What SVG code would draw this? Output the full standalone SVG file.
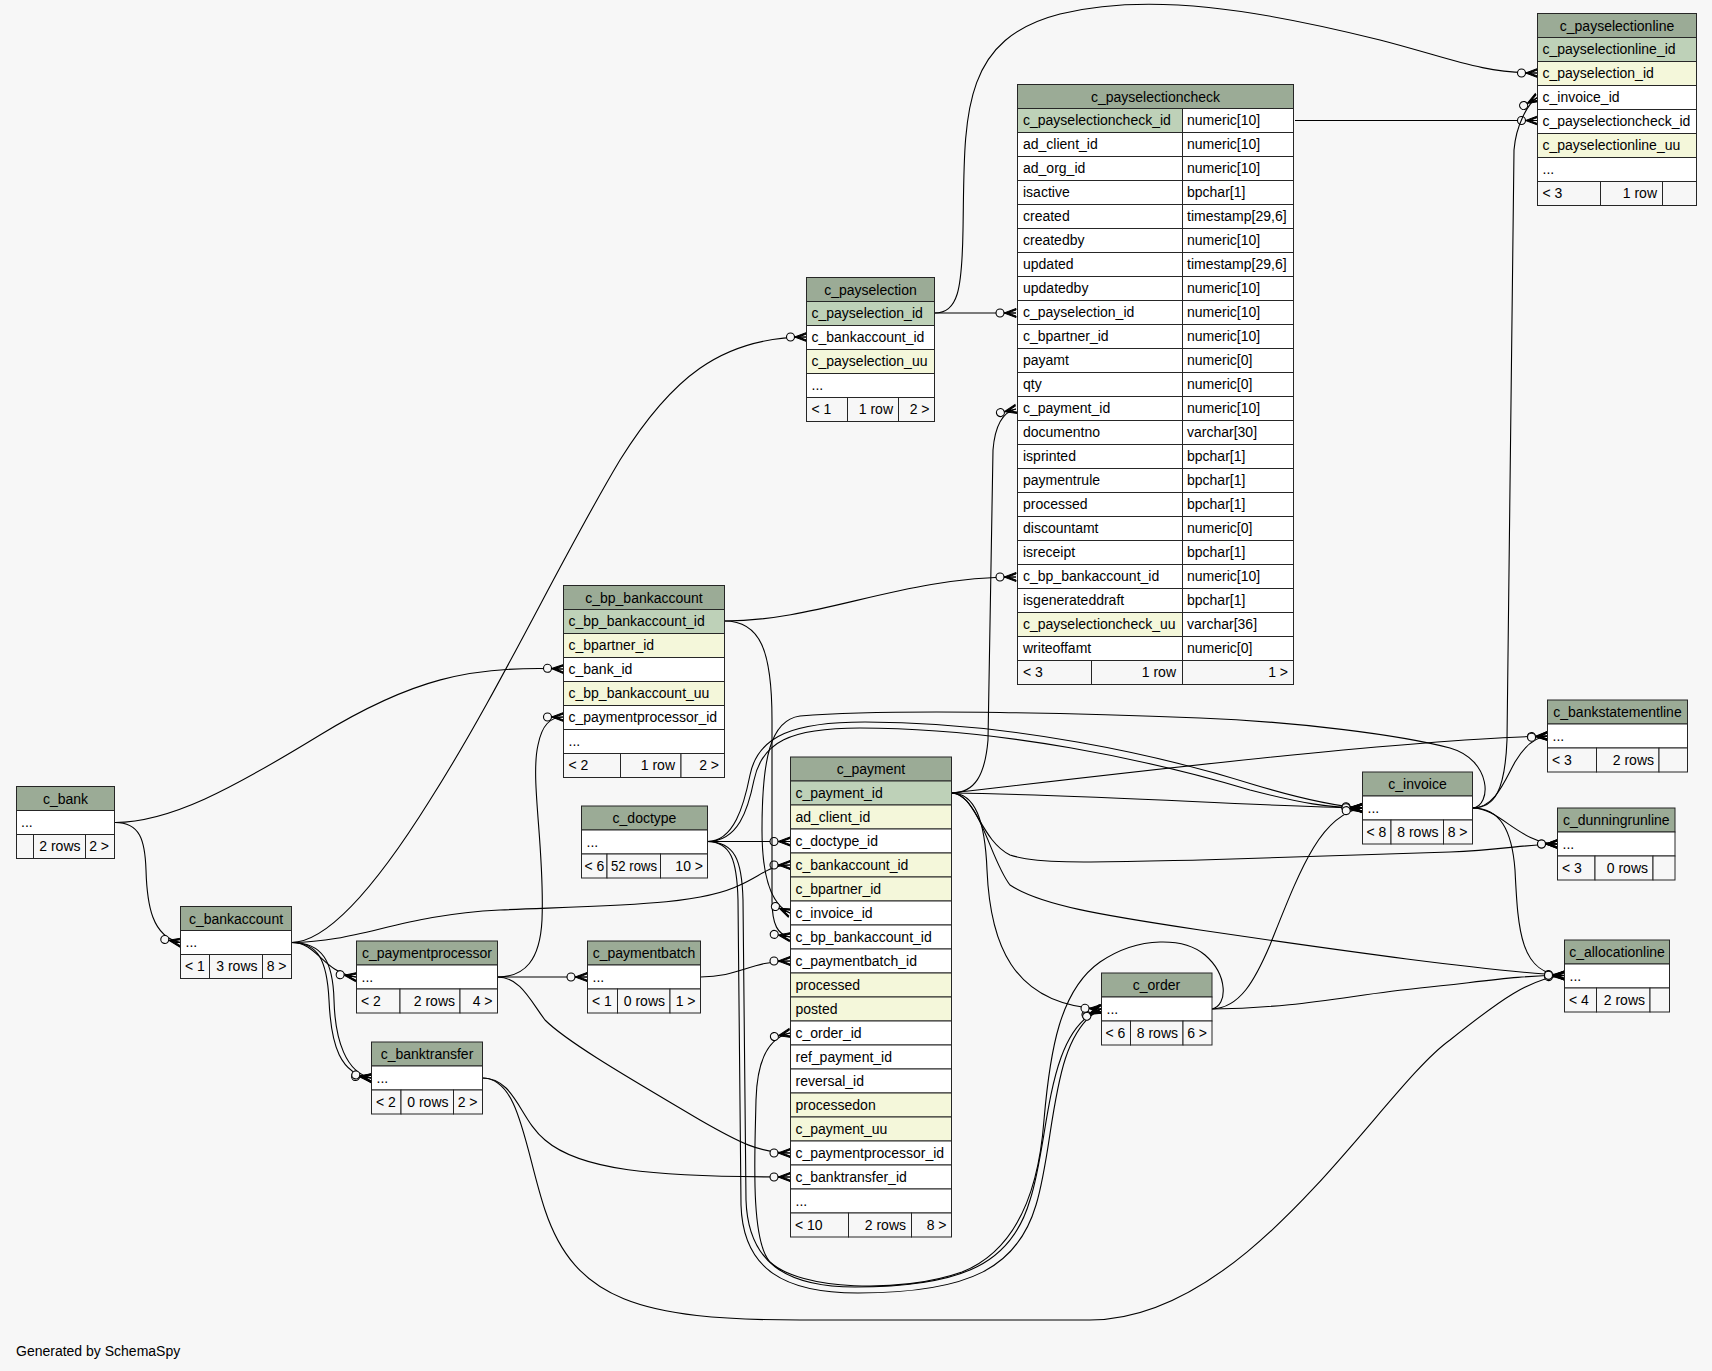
<svg xmlns="http://www.w3.org/2000/svg" width="1712" height="1371" viewBox="0 0 1712 1371">
<defs>
<style>
text{font-family:"Liberation Sans",Arial,sans-serif;font-size:14px;fill:#000}
.c{text-anchor:middle}.e{text-anchor:end}
rect{stroke:#262626;stroke-width:1}
rect.bg{stroke:none;fill:#f7f7f7}
.h{fill:#9bab96}.pk{fill:#bed1b8}.ix{fill:#f4f7da}.w{fill:#fff}.f{fill:#f7f7f7}
.edges path{fill:none;stroke:#000;stroke-width:1.1;marker-end:url(#crow)}
</style>
<marker id="crow" markerUnits="userSpaceOnUse" markerWidth="26" markerHeight="14" viewBox="-22 -7 24 14" refX="0" refY="0" orient="auto" overflow="visible">
<path d="M-12,0 L0,-4.5 L0,-3 L-8,0 L0,3 L0,4.5 Z M-12,0 L0,0" fill="#000" stroke="#000" stroke-width="1"/>
<circle cx="-16" cy="0" r="4" fill="#f7f7f7" stroke="#000" stroke-width="1.1"/>
</marker>
</defs>
<rect class="bg" x="0" y="0" width="1712" height="1371"/>

<g class="edges" id="connectors">
<path d="M115,822.5 C140,822.5 145,840 146,870 C147,905 152,937 180.5,942.5"/>
<path d="M115,822.5 C170,822 230,790 320,735 C410,680 470,665 563.5,669"/>
<path d="M291.5,942.5 C330,942 380,880 430,800 C500,690 560,560 620,460 C670,380 720,337 806.5,337"/>
<path d="M291.5,942.5 C318,942.5 322,972 356,977"/>
<path d="M291.5,942.5 C318,942.5 327,960 329,1000 C331,1045 340,1075 371.5,1078"/>
<path d="M291.5,942.5 C323,942.5 333,962 334,1000 C335,1040 346,1073 371.5,1078"/>
<path d="M291.5,942.5 C360,942 400,915 500,910 C620,905 700,905 740,885 C762,875 770,865 790,865"/>
<path d="M497.5,977 C525,977 540,960 542,920 C545,850 530,780 538,745 C542,725 550,717 563.5,717"/>
<path d="M497.5,977 L587,977"/>
<path d="M497.5,977 C520,977 530,1000 545,1020 C570,1045 650,1090 700,1120 C740,1143 760,1153 790,1153"/>
<path d="M700.5,977 C740,977 750,961 790,961"/>
<path d="M482.5,1078 C515,1078 520,1120 545,1140 C580,1170 650,1177 790,1177"/>
<path d="M482.5,1078 C520,1078 525,1150 545,1210 C575,1300 640,1320 800,1320 L1090,1320 C1250,1320 1380,1090 1450,1040 C1500,1000 1530,978 1564.5,975.5"/>
<path d="M707.5,841.5 L790,841.5"/>
<path d="M707.5,841.5 C738,841.5 748,810 754,780 C762,742 790,728 860,728 C1000,728 1150,760 1250,790 C1300,803 1330,808 1362,808"/>
<path d="M707.5,841.5 C734,841.5 744,805 750,775 C758,735 795,722 865,722 C1010,722 1160,755 1255,785 C1305,800 1335,806 1362,808"/>
<path d="M707.5,841.5 C735,842 742,860 743,900 L746,1200 C748,1262 785,1287 855,1287 C965,1287 1012,1262 1030,1200 C1050,1140 1045,1030 1101,1009"/>
<path d="M707.5,841.5 C731,842 737,860 738,900 L741,1205 C743,1270 785,1293 858,1293 C972,1293 1018,1266 1036,1205 C1056,1140 1050,1035 1101,1009"/>
<path d="M724.5,621 C820,621 900,577 1016,577"/>
<path d="M724.5,621 C760,621 772,650 772,720 L772,900 C772,925 778,935 790,937"/>
<path d="M934.5,313 C958,313 962,290 963,230 C965,120 958,40 1060,14 C1150,-8 1260,10 1380,40 C1450,58 1480,73 1537.5,73"/>
<path d="M934.5,313 L1016,313"/>
<path d="M1295,120.5 L1537.5,120.5"/>
<path d="M1472.5,808 C1495,808 1505,790 1507,740 L1514,150 C1516,125 1528,103 1537.5,97.5"/>
<path d="M951.5,793 C975,793 985,775 988,740 L993,450 C995,425 1003,412 1016,409"/>
<path d="M951.5,793 C975,793 985,820 987,870 C990,940 1010,1005 1101,1009"/>
<path d="M951.5,793 C1100,795 1250,806 1362,808"/>
<path d="M951.5,793 C1150,770 1400,740 1547.5,736"/>
<path d="M951.5,793 C975,793 980,840 1010,855 C1040,865 1100,862 1200,860 L1450,852 C1500,850 1530,844 1557.5,844"/>
<path d="M951.5,793 C980,795 990,860 1010,885 C1040,905 1100,915 1200,930 C1350,952 1480,970 1564.5,975.5"/>
<path d="M1472.5,808 C1495,808 1505,780 1515,762 C1525,745 1535,737 1547.5,736"/>
<path d="M1472.5,808 C1500,808 1520,844 1557.5,844"/>
<path d="M1472.5,808 C1500,808 1512,830 1515,870 C1518,930 1520,975 1564.5,975.5"/>
<path d="M1212,1009 C1240,1008 1255,980 1270,945 C1300,870 1320,815 1362,808"/>
<path d="M1212,1009 C1300,1008 1350,995 1420,988 C1480,982 1520,975 1564.5,975.5"/>
<path d="M1212,1009 C1228,1005 1228,975 1205,955 C1185,938 1140,935 1100,962 C1060,990 1050,1050 1044,1120 C1038,1200 1012,1252 962,1272 C900,1294 800,1290 770,1262 C750,1240 755,1150 756,1100 C757,1060 768,1038 790,1033"/>
<path d="M1472.5,808 C1492,806 1492,760 1450,748 C1400,735 1300,722 1200,718 C1100,714 900,708 800,716 C770,720 762,760 762,830 C762,880 772,905 790,913"/>
</g>

<g id="c_payselectionline">
<rect class="h" x="1537.5" y="13.5" width="159" height="24"/><text class="c" x="1617" y="30.5">c_payselectionline</text>
<rect class="pk" x="1537.5" y="37.5" width="159" height="24"/><text x="1542.5" y="54">c_payselectionline_id</text>
<rect class="ix" x="1537.5" y="61.5" width="159" height="24"/><text x="1542.5" y="78">c_payselection_id</text>
<rect class="w" x="1537.5" y="85.5" width="159" height="24"/><text x="1542.5" y="102">c_invoice_id</text>
<rect class="w" x="1537.5" y="109.5" width="159" height="24"/><text x="1542.5" y="126">c_payselectioncheck_id</text>
<rect class="ix" x="1537.5" y="133.5" width="159" height="24"/><text x="1542.5" y="150">c_payselectionline_uu</text>
<rect class="w" x="1537.5" y="157.5" width="159" height="24"/><text x="1542.5" y="174">...</text>
<rect class="f" x="1537.5" y="181.5" width="63" height="24"/><rect class="f" x="1600.5" y="181.5" width="62" height="24"/><rect class="f" x="1662.5" y="181.5" width="34" height="24"/>
<text x="1542.5" y="198">&lt; 3</text><text class="e" x="1657" y="198">1 row</text>
</g>

<g id="c_payselectioncheck">
<rect class="h" x="1017.5" y="84.5" width="276" height="24"/><text class="c" x="1155.5" y="101.5">c_payselectioncheck</text>
<rect class="pk" x="1017.5" y="108.5" width="165" height="24"/><rect class="w" x="1182.5" y="108.5" width="111" height="24"/><text x="1023" y="125">c_payselectioncheck_id</text><text x="1187" y="125">numeric[10]</text>
<rect class="w" x="1017.5" y="132.5" width="165" height="24"/><rect class="w" x="1182.5" y="132.5" width="111" height="24"/><text x="1023" y="149">ad_client_id</text><text x="1187" y="149">numeric[10]</text>
<rect class="w" x="1017.5" y="156.5" width="165" height="24"/><rect class="w" x="1182.5" y="156.5" width="111" height="24"/><text x="1023" y="173">ad_org_id</text><text x="1187" y="173">numeric[10]</text>
<rect class="w" x="1017.5" y="180.5" width="165" height="24"/><rect class="w" x="1182.5" y="180.5" width="111" height="24"/><text x="1023" y="197">isactive</text><text x="1187" y="197">bpchar[1]</text>
<rect class="w" x="1017.5" y="204.5" width="165" height="24"/><rect class="w" x="1182.5" y="204.5" width="111" height="24"/><text x="1023" y="221">created</text><text x="1187" y="221">timestamp[29,6]</text>
<rect class="w" x="1017.5" y="228.5" width="165" height="24"/><rect class="w" x="1182.5" y="228.5" width="111" height="24"/><text x="1023" y="245">createdby</text><text x="1187" y="245">numeric[10]</text>
<rect class="w" x="1017.5" y="252.5" width="165" height="24"/><rect class="w" x="1182.5" y="252.5" width="111" height="24"/><text x="1023" y="269">updated</text><text x="1187" y="269">timestamp[29,6]</text>
<rect class="w" x="1017.5" y="276.5" width="165" height="24"/><rect class="w" x="1182.5" y="276.5" width="111" height="24"/><text x="1023" y="293">updatedby</text><text x="1187" y="293">numeric[10]</text>
<rect class="w" x="1017.5" y="300.5" width="165" height="24"/><rect class="w" x="1182.5" y="300.5" width="111" height="24"/><text x="1023" y="317">c_payselection_id</text><text x="1187" y="317">numeric[10]</text>
<rect class="w" x="1017.5" y="324.5" width="165" height="24"/><rect class="w" x="1182.5" y="324.5" width="111" height="24"/><text x="1023" y="341">c_bpartner_id</text><text x="1187" y="341">numeric[10]</text>
<rect class="w" x="1017.5" y="348.5" width="165" height="24"/><rect class="w" x="1182.5" y="348.5" width="111" height="24"/><text x="1023" y="365">payamt</text><text x="1187" y="365">numeric[0]</text>
<rect class="w" x="1017.5" y="372.5" width="165" height="24"/><rect class="w" x="1182.5" y="372.5" width="111" height="24"/><text x="1023" y="389">qty</text><text x="1187" y="389">numeric[0]</text>
<rect class="w" x="1017.5" y="396.5" width="165" height="24"/><rect class="w" x="1182.5" y="396.5" width="111" height="24"/><text x="1023" y="413">c_payment_id</text><text x="1187" y="413">numeric[10]</text>
<rect class="w" x="1017.5" y="420.5" width="165" height="24"/><rect class="w" x="1182.5" y="420.5" width="111" height="24"/><text x="1023" y="437">documentno</text><text x="1187" y="437">varchar[30]</text>
<rect class="w" x="1017.5" y="444.5" width="165" height="24"/><rect class="w" x="1182.5" y="444.5" width="111" height="24"/><text x="1023" y="461">isprinted</text><text x="1187" y="461">bpchar[1]</text>
<rect class="w" x="1017.5" y="468.5" width="165" height="24"/><rect class="w" x="1182.5" y="468.5" width="111" height="24"/><text x="1023" y="485">paymentrule</text><text x="1187" y="485">bpchar[1]</text>
<rect class="w" x="1017.5" y="492.5" width="165" height="24"/><rect class="w" x="1182.5" y="492.5" width="111" height="24"/><text x="1023" y="509">processed</text><text x="1187" y="509">bpchar[1]</text>
<rect class="w" x="1017.5" y="516.5" width="165" height="24"/><rect class="w" x="1182.5" y="516.5" width="111" height="24"/><text x="1023" y="533">discountamt</text><text x="1187" y="533">numeric[0]</text>
<rect class="w" x="1017.5" y="540.5" width="165" height="24"/><rect class="w" x="1182.5" y="540.5" width="111" height="24"/><text x="1023" y="557">isreceipt</text><text x="1187" y="557">bpchar[1]</text>
<rect class="w" x="1017.5" y="564.5" width="165" height="24"/><rect class="w" x="1182.5" y="564.5" width="111" height="24"/><text x="1023" y="581">c_bp_bankaccount_id</text><text x="1187" y="581">numeric[10]</text>
<rect class="w" x="1017.5" y="588.5" width="165" height="24"/><rect class="w" x="1182.5" y="588.5" width="111" height="24"/><text x="1023" y="605">isgenerateddraft</text><text x="1187" y="605">bpchar[1]</text>
<rect class="ix" x="1017.5" y="612.5" width="165" height="24"/><rect class="w" x="1182.5" y="612.5" width="111" height="24"/><text x="1023" y="629">c_payselectioncheck_uu</text><text x="1187" y="629">varchar[36]</text>
<rect class="w" x="1017.5" y="636.5" width="165" height="24"/><rect class="w" x="1182.5" y="636.5" width="111" height="24"/><text x="1023" y="653">writeoffamt</text><text x="1187" y="653">numeric[0]</text>
<rect class="f" x="1017.5" y="660.5" width="74" height="24"/><rect class="f" x="1091.5" y="660.5" width="91" height="24"/><rect class="f" x="1182.5" y="660.5" width="111" height="24"/>
<text x="1023" y="677">&lt; 3</text><text class="e" x="1176" y="677">1 row</text><text class="e" x="1288" y="677">1 &gt;</text>
<rect x="1017.5" y="84.5" width="276" height="600" fill="none" stroke="#000" stroke-width="3"/>
</g>

<g id="c_payselection">
<rect class="h" x="806.5" y="277.5" width="128" height="24"/><text class="c" x="870.5" y="294.5">c_payselection</text>
<rect class="pk" x="806.5" y="301.5" width="128" height="24"/><text x="811.5" y="318">c_payselection_id</text>
<rect class="w" x="806.5" y="325.5" width="128" height="24"/><text x="811.5" y="342">c_bankaccount_id</text>
<rect class="ix" x="806.5" y="349.5" width="128" height="24"/><text x="811.5" y="366">c_payselection_uu</text>
<rect class="w" x="806.5" y="373.5" width="128" height="24"/><text x="811.5" y="390">...</text>
<rect class="f" x="806.5" y="397.5" width="41" height="24"/><rect class="f" x="847.5" y="397.5" width="51" height="24"/><rect class="f" x="898.5" y="397.5" width="36" height="24"/>
<text x="811.5" y="414">&lt; 1</text><text class="e" x="893" y="414">1 row</text><text class="e" x="929.5" y="414">2 &gt;</text>
</g>

<g id="c_bp_bankaccount">
<rect class="h" x="563.5" y="585.5" width="161" height="24"/><text class="c" x="644" y="602.5">c_bp_bankaccount</text>
<rect class="pk" x="563.5" y="609.5" width="161" height="24"/><text x="568.5" y="626">c_bp_bankaccount_id</text>
<rect class="ix" x="563.5" y="633.5" width="161" height="24"/><text x="568.5" y="650">c_bpartner_id</text>
<rect class="w" x="563.5" y="657.5" width="161" height="24"/><text x="568.5" y="674">c_bank_id</text>
<rect class="ix" x="563.5" y="681.5" width="161" height="24"/><text x="568.5" y="698">c_bp_bankaccount_uu</text>
<rect class="w" x="563.5" y="705.5" width="161" height="24"/><text x="568.5" y="722">c_paymentprocessor_id</text>
<rect class="w" x="563.5" y="729.5" width="161" height="24"/><text x="568.5" y="746">...</text>
<rect class="f" x="563.5" y="753.5" width="57" height="24"/><rect class="f" x="620.5" y="753.5" width="60.5" height="24"/><rect class="f" x="681" y="753.5" width="43.5" height="24"/>
<text x="568.5" y="770">&lt; 2</text><text class="e" x="675" y="770">1 row</text><text class="e" x="719" y="770">2 &gt;</text>
</g>

<g id="c_bank">
<rect class="h" x="16.5" y="786.5" width="98" height="24"/><text class="c" x="65.5" y="803.5">c_bank</text>
<rect class="w" x="16.5" y="810.5" width="98" height="24"/><text x="21" y="827">...</text>
<rect class="f" x="16.5" y="834.5" width="17" height="24"/><rect class="f" x="33.5" y="834.5" width="52" height="24"/><rect class="f" x="85.5" y="834.5" width="29" height="24"/>
<text class="e" x="80.5" y="851">2 rows</text><text class="e" x="109" y="851">2 &gt;</text>
</g>

<g id="c_bankaccount">
<rect class="h" x="180.5" y="906.5" width="111" height="24"/><text class="c" x="236" y="923.5">c_bankaccount</text>
<rect class="w" x="180.5" y="930.5" width="111" height="24"/><text x="185.5" y="947">...</text>
<rect class="f" x="180.5" y="954.5" width="29" height="24"/><rect class="f" x="209.5" y="954.5" width="53" height="24"/><rect class="f" x="262.5" y="954.5" width="29" height="24"/>
<text x="185" y="971">&lt; 1</text><text class="e" x="257.5" y="971">3 rows</text><text class="e" x="286.5" y="971">8 &gt;</text>
</g>

<g id="c_paymentprocessor">
<rect class="h" x="356.5" y="941" width="141" height="24"/><text class="c" x="427" y="958">c_paymentprocessor</text>
<rect class="w" x="356.5" y="965" width="141" height="24"/><text x="361.5" y="981.5">...</text>
<rect class="f" x="356.5" y="989" width="43.5" height="24"/><rect class="f" x="400" y="989" width="60" height="24"/><rect class="f" x="460" y="989" width="37.5" height="24"/>
<text x="361" y="1005.5">&lt; 2</text><text class="e" x="455" y="1005.5">2 rows</text><text class="e" x="492.5" y="1005.5">4 &gt;</text>
</g>

<g id="c_paymentbatch">
<rect class="h" x="587.5" y="941" width="113" height="24"/><text class="c" x="644" y="958">c_paymentbatch</text>
<rect class="w" x="587.5" y="965" width="113" height="24"/><text x="592.5" y="981.5">...</text>
<rect class="f" x="587.5" y="989" width="30" height="24"/><rect class="f" x="617.5" y="989" width="52.5" height="24"/><rect class="f" x="670" y="989" width="30.5" height="24"/>
<text x="592" y="1005.5">&lt; 1</text><text class="e" x="665" y="1005.5">0 rows</text><text class="e" x="695.5" y="1005.5">1 &gt;</text>
</g>

<g id="c_banktransfer">
<rect class="h" x="371.5" y="1042" width="111" height="24"/><text class="c" x="427" y="1059">c_banktransfer</text>
<rect class="w" x="371.5" y="1066" width="111" height="24"/><text x="376.5" y="1082.5">...</text>
<rect class="f" x="371.5" y="1090" width="29.5" height="24"/><rect class="f" x="401" y="1090" width="52.5" height="24"/><rect class="f" x="453.5" y="1090" width="29" height="24"/>
<text x="376" y="1106.5">&lt; 2</text><text class="e" x="448.5" y="1106.5">0 rows</text><text class="e" x="477.5" y="1106.5">2 &gt;</text>
</g>

<g id="c_doctype">
<rect class="h" x="581.5" y="806" width="126" height="24"/><text class="c" x="644.5" y="823">c_doctype</text>
<rect class="w" x="581.5" y="830" width="126" height="24"/><text x="586.5" y="846.5">...</text>
<rect class="f" x="581.5" y="854" width="25.5" height="24"/><rect class="f" x="607" y="854" width="53.5" height="24"/><rect class="f" x="660.5" y="854" width="47" height="24"/>
<text x="584.5" y="870.5">&lt; 6</text><text class="e" x="657" y="870.5" textLength="46" lengthAdjust="spacingAndGlyphs">52 rows</text><text class="e" x="703" y="870.5">10 &gt;</text>
</g>

<g id="c_payment">
<rect class="h" x="790.5" y="757" width="161" height="24"/><text class="c" x="871" y="774">c_payment</text>
<rect class="pk" x="790.5" y="781" width="161" height="24"/><text x="795.5" y="797.5">c_payment_id</text>
<rect class="ix" x="790.5" y="805" width="161" height="24"/><text x="795.5" y="821.5">ad_client_id</text>
<rect class="w" x="790.5" y="829" width="161" height="24"/><text x="795.5" y="845.5">c_doctype_id</text>
<rect class="ix" x="790.5" y="853" width="161" height="24"/><text x="795.5" y="869.5">c_bankaccount_id</text>
<rect class="ix" x="790.5" y="877" width="161" height="24"/><text x="795.5" y="893.5">c_bpartner_id</text>
<rect class="w" x="790.5" y="901" width="161" height="24"/><text x="795.5" y="917.5">c_invoice_id</text>
<rect class="w" x="790.5" y="925" width="161" height="24"/><text x="795.5" y="941.5">c_bp_bankaccount_id</text>
<rect class="w" x="790.5" y="949" width="161" height="24"/><text x="795.5" y="965.5">c_paymentbatch_id</text>
<rect class="ix" x="790.5" y="973" width="161" height="24"/><text x="795.5" y="989.5">processed</text>
<rect class="ix" x="790.5" y="997" width="161" height="24"/><text x="795.5" y="1013.5">posted</text>
<rect class="w" x="790.5" y="1021" width="161" height="24"/><text x="795.5" y="1037.5">c_order_id</text>
<rect class="w" x="790.5" y="1045" width="161" height="24"/><text x="795.5" y="1061.5">ref_payment_id</text>
<rect class="w" x="790.5" y="1069" width="161" height="24"/><text x="795.5" y="1085.5">reversal_id</text>
<rect class="ix" x="790.5" y="1093" width="161" height="24"/><text x="795.5" y="1109.5">processedon</text>
<rect class="ix" x="790.5" y="1117" width="161" height="24"/><text x="795.5" y="1133.5">c_payment_uu</text>
<rect class="w" x="790.5" y="1141" width="161" height="24"/><text x="795.5" y="1157.5">c_paymentprocessor_id</text>
<rect class="w" x="790.5" y="1165" width="161" height="24"/><text x="795.5" y="1181.5">c_banktransfer_id</text>
<rect class="w" x="790.5" y="1189" width="161" height="24"/><text x="795.5" y="1205.5">...</text>
<rect class="f" x="790.5" y="1213" width="58" height="24"/><rect class="f" x="848.5" y="1213" width="63" height="24"/><rect class="f" x="911.5" y="1213" width="40" height="24"/>
<text x="795" y="1229.5">&lt; 10</text><text class="e" x="906" y="1229.5">2 rows</text><text class="e" x="946.5" y="1229.5">8 &gt;</text>
</g>

<g id="c_invoice">
<rect class="h" x="1362.5" y="772" width="110" height="24"/><text class="c" x="1417.5" y="789">c_invoice</text>
<rect class="w" x="1362.5" y="796" width="110" height="24"/><text x="1367.5" y="812.5">...</text>
<rect class="f" x="1362.5" y="820" width="28.5" height="24"/><rect class="f" x="1391" y="820" width="52.5" height="24"/><rect class="f" x="1443.5" y="820" width="29" height="24"/>
<text x="1366.5" y="836.5">&lt; 8</text><text class="e" x="1438.5" y="836.5">8 rows</text><text class="e" x="1467.5" y="836.5">8 &gt;</text>
</g>

<g id="c_bankstatementline">
<rect class="h" x="1547.5" y="700" width="140" height="24"/><text class="c" x="1617.5" y="717">c_bankstatementline</text>
<rect class="w" x="1547.5" y="724" width="140" height="24"/><text x="1552.5" y="740.5">...</text>
<rect class="f" x="1547.5" y="748" width="49" height="24"/><rect class="f" x="1596.5" y="748" width="62.5" height="24"/><rect class="f" x="1659" y="748" width="28.5" height="24"/>
<text x="1552" y="764.5">&lt; 3</text><text class="e" x="1654" y="764.5">2 rows</text>
</g>

<g id="c_dunningrunline">
<rect class="h" x="1557.5" y="808" width="117.5" height="24"/><text class="c" x="1616.25" y="825">c_dunningrunline</text>
<rect class="w" x="1557.5" y="832" width="117.5" height="24"/><text x="1562.5" y="848.5">...</text>
<rect class="f" x="1557.5" y="856" width="37.5" height="24"/><rect class="f" x="1595" y="856" width="58" height="24"/><rect class="f" x="1653" y="856" width="22" height="24"/>
<text x="1562" y="872.5">&lt; 3</text><text class="e" x="1648" y="872.5">0 rows</text>
</g>

<g id="c_allocationline">
<rect class="h" x="1564.5" y="940" width="105" height="24"/><text class="c" x="1617" y="957">c_allocationline</text>
<rect class="w" x="1564.5" y="964" width="105" height="24"/><text x="1569.5" y="980.5">...</text>
<rect class="f" x="1564.5" y="988" width="32" height="24"/><rect class="f" x="1596.5" y="988" width="53.5" height="24"/><rect class="f" x="1650" y="988" width="19.5" height="24"/>
<text x="1569" y="1004.5">&lt; 4</text><text class="e" x="1645" y="1004.5">2 rows</text>
</g>

<g id="c_order">
<rect class="h" x="1101.5" y="973" width="110.5" height="24"/><text class="c" x="1156.5" y="990">c_order</text>
<rect class="w" x="1101.5" y="997" width="110.5" height="24"/><text x="1106.5" y="1013.5">...</text>
<rect class="f" x="1101.5" y="1021" width="29" height="24"/><rect class="f" x="1130.5" y="1021" width="52.5" height="24"/><rect class="f" x="1183" y="1021" width="29" height="24"/>
<text x="1105.5" y="1037.5">&lt; 6</text><text class="e" x="1178" y="1037.5">8 rows</text><text class="e" x="1207" y="1037.5">6 &gt;</text>
</g>

<text x="16" y="1356">Generated by SchemaSpy</text>
</svg>
